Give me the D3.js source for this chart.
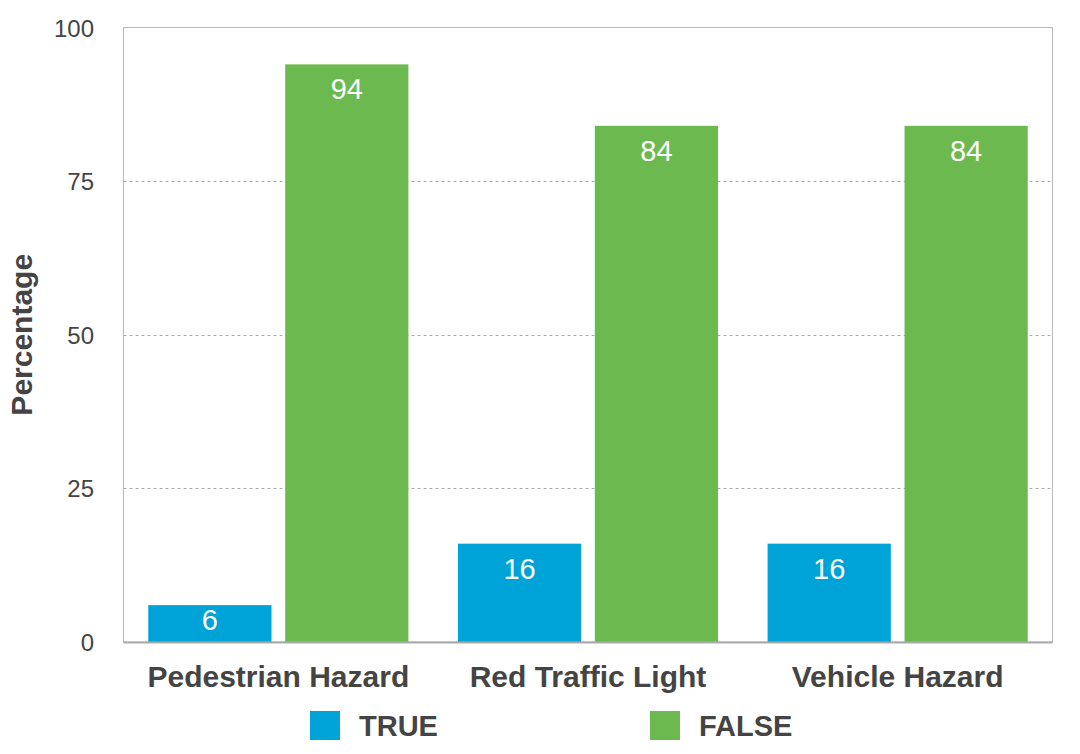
<!DOCTYPE html>
<html lang="en">
<head>
    <meta charset="utf-8" />
    <title>Percentage by hazard</title>
    <script src="https://d3js.org/d3.v7.min.js"></script>
    <style>
        body { margin: 0; background: #fff; }
        svg { display: block; font-family: "Liberation Sans", Arial, sans-serif; }
    </style>
</head>
<body>
    <script>
        var w = 1080;
        var h = 754;

        var categories = ["Pedestrian Hazard", "Red Traffic Light", "Vehicle Hazard"];
        var seriesNames = ["TRUE", "FALSE"];
        var trueValues = [6, 16, 16];
        var falseValues = [94, 84, 84];
        var yTicks = [0, 25, 50, 75, 100];
        var colors = ["#00a3d7", "#6cba4f"];

        // plot box (note: "top" is reserved on window, so use plot* names)
        var plotLeft = 123.5, plotRight = 1052.5, plotTop = 27.5, plotBottom = 642;

        var xScale = d3.scaleBand()
            .domain(categories)
            .range([plotLeft, plotRight])
            .paddingInner(0.16)
            .paddingOuter(0.08);

        var xSub = d3.scaleBand()
            .domain(seriesNames)
            .range([0, xScale.bandwidth()])
            .paddingInner(0.1);

        var yScale = d3.scaleLinear()
            .domain([0, 100])
            .range([plotBottom, plotTop]);

        var svg = d3.select("body")
            .append("svg")
            .attr("width", w)
            .attr("height", h);

        // dotted gridlines
        svg.selectAll("line.grid")
            .data(yTicks.filter(function (d) { return d > 0 && d < 100; }))
            .enter()
            .append("line")
            .attr("class", "grid")
            .attr("x1", plotLeft)
            .attr("x2", plotRight)
            .attr("y1", function (d) { return Math.round(yScale(d)) + 0.5; })
            .attr("y2", function (d) { return Math.round(yScale(d)) + 0.5; })
            .attr("stroke", "#aaa")
            .attr("stroke-width", 1)
            .attr("stroke-dasharray", "3,3");

        // frame
        svg.append("rect")
            .attr("x", plotLeft)
            .attr("y", plotTop)
            .attr("width", plotRight - plotLeft)
            .attr("height", plotBottom - plotTop)
            .attr("fill", "none")
            .attr("stroke", "#b8b8b8")
            .attr("stroke-width", 1);

        // y tick labels
        svg.selectAll("text.ytick")
            .data(yTicks)
            .enter()
            .append("text")
            .attr("class", "ytick")
            .attr("x", 94)
            .attr("y", function (d) { return yScale(d) + 9; })
            .attr("text-anchor", "end")
            .attr("font-size", "24px")
            .attr("fill", "#444")
            .text(function (d) { return d; });

        // y axis title
        svg.append("text")
            .attr("transform", "translate(32," + ((plotTop + plotBottom) / 2) + ") rotate(-90)")
            .attr("text-anchor", "middle")
            .attr("font-size", "30px")
            .attr("font-weight", "bold")
            .attr("fill", "#444")
            .text("Percentage");

        var rows = [];
        categories.forEach(function (c, i) {
            rows.push({ cat: c, series: "TRUE", value: trueValues[i], color: colors[0] });
            rows.push({ cat: c, series: "FALSE", value: falseValues[i], color: colors[1] });
        });

        svg.selectAll("rect.bar")
            .data(rows)
            .enter()
            .append("rect")
            .attr("class", "bar")
            .attr("x", function (d) { return xScale(d.cat) + xSub(d.series); })
            .attr("y", function (d) { return yScale(d.value); })
            .attr("width", xSub.bandwidth())
            .attr("height", function (d) { return plotBottom - yScale(d.value); })
            .attr("fill", function (d) { return d.color; });

        // bottom axis line drawn over bars
        svg.append("line")
            .attr("x1", plotLeft)
            .attr("x2", plotRight)
            .attr("y1", plotBottom + 0.5)
            .attr("y2", plotBottom + 0.5)
            .attr("stroke", "#aaa")
            .attr("stroke-width", 2);

        // value labels, kept inside short bars
        svg.selectAll("text.val")
            .data(rows)
            .enter()
            .append("text")
            .attr("class", "val")
            .attr("x", function (d) { return xScale(d.cat) + xSub(d.series) + xSub.bandwidth() / 2; })
            .attr("y", function (d) { return Math.min(yScale(d.value) + 35, plotBottom - 12); })
            .attr("text-anchor", "middle")
            .attr("font-size", "29px")
            .attr("fill", "#fff")
            .text(function (d) { return d.value; });

        // category labels
        svg.selectAll("text.cat")
            .data(categories)
            .enter()
            .append("text")
            .attr("class", "cat")
            .attr("x", function (d) { return xScale(d) + xScale.bandwidth() / 2; })
            .attr("y", 687)
            .attr("text-anchor", "middle")
            .attr("font-size", "30px")
            .attr("font-weight", "bold")
            .attr("fill", "#444")
            .text(function (d) { return d; });

        // legend
        var legendX = [310, 650];
        var legend = svg.selectAll("g.legend")
            .data(seriesNames)
            .enter()
            .append("g")
            .attr("class", "legend")
            .attr("transform", function (d, i) { return "translate(" + legendX[i] + ",711)"; });

        legend.append("rect")
            .attr("width", 30)
            .attr("height", 29)
            .attr("fill", function (d, i) { return colors[i]; });

        legend.append("text")
            .attr("x", 49)
            .attr("y", 25)
            .attr("font-size", "29px")
            .attr("font-weight", "bold")
            .attr("fill", "#444")
            .text(function (d) { return d; });
    </script>
</body>
</html>
